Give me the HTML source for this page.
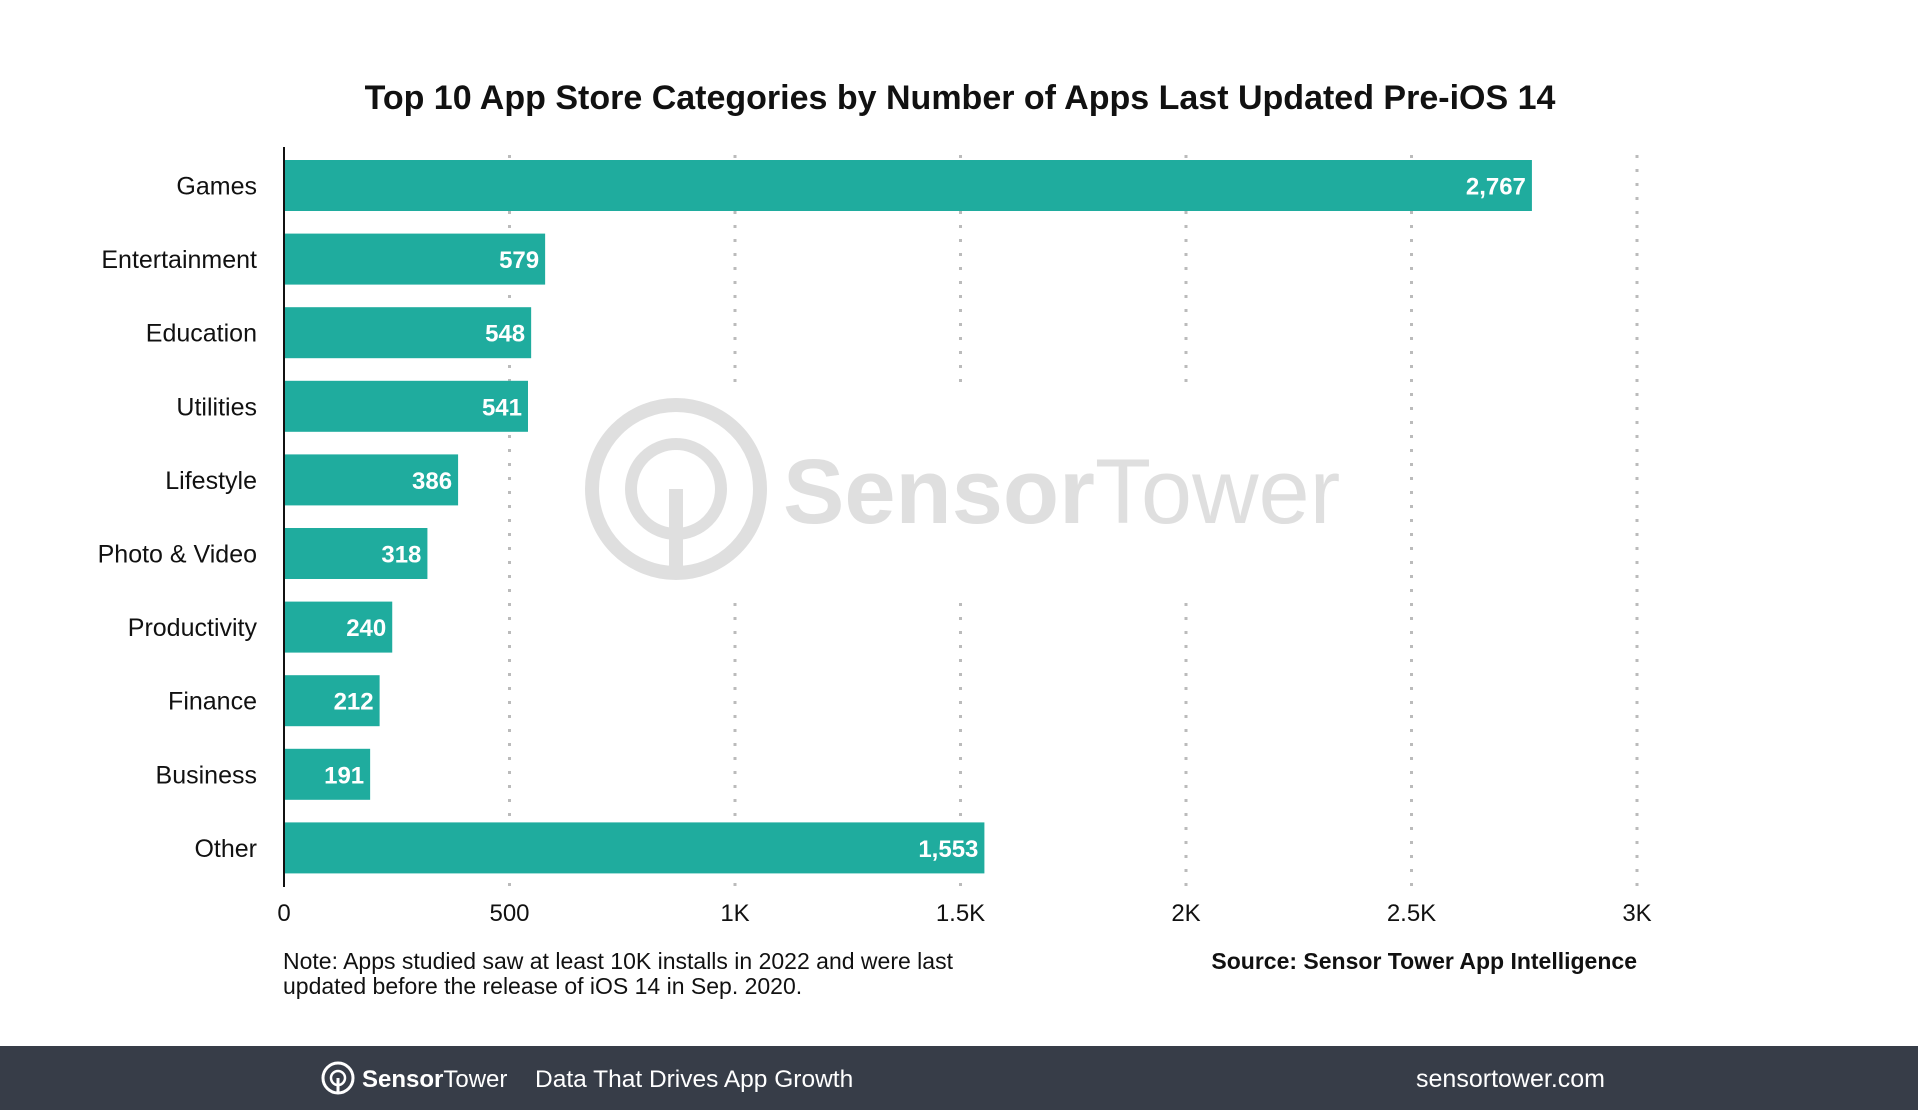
<!DOCTYPE html>
<html><head><meta charset="utf-8"><style>
body{margin:0;width:1918px;height:1110px;background:#fff;overflow:hidden;font-family:"Liberation Sans",Arial,sans-serif}
svg{display:block}
</style></head><body>
<svg id="c" width="1918" height="1110">
<text x="960" y="109" text-anchor="middle" font-size="34" font-weight="bold" fill="#111">Top 10 App Store Categories by Number of Apps Last Updated Pre-iOS 14</text>
<g id="grid"></g>
<rect x="575" y="385" width="770" height="215" fill="#fff"/>
<g opacity="0.9">
<circle cx="676" cy="489" r="84" fill="none" stroke="#dcdcdc" stroke-width="14"/>
<circle cx="676" cy="489" r="45" fill="none" stroke="#dcdcdc" stroke-width="12"/>
<line x1="676" y1="489" x2="676" y2="570" stroke="#dcdcdc" stroke-width="14"/>
<text x="783" y="523" font-size="92" font-weight="bold" fill="#dcdcdc">Sensor<tspan font-weight="normal">Tower</tspan></text>
</g>
<g id="bars"></g>
<line x1="284" y1="147" x2="284" y2="887" stroke="#111" stroke-width="2"/>
<g id="ticks"></g>
<text x="283" y="969" font-size="23" fill="#111">Note: Apps studied saw at least 10K installs in 2022 and were last</text>
<text x="283" y="994" font-size="23" fill="#111">updated before the release of iOS 14 in Sep. 2020.</text>
<text x="1637" y="969" text-anchor="end" font-size="23" font-weight="bold" fill="#111">Source: Sensor Tower App Intelligence</text>
<rect x="0" y="1046" width="1918" height="64" fill="#373d48"/>
<g>
<circle cx="338" cy="1078" r="15" fill="none" stroke="#fff" stroke-width="3"/>
<circle cx="338" cy="1078" r="7" fill="none" stroke="#fff" stroke-width="2.5"/>
<line x1="338" y1="1078" x2="338" y2="1093" stroke="#fff" stroke-width="3"/>
<text x="362" y="1087" font-size="24" fill="#fff" font-weight="bold">Sensor<tspan font-weight="normal">Tower</tspan></text>
</g>
<text x="535" y="1087" font-size="24.5" fill="#fff">Data That Drives App Growth</text>
<text x="1605" y="1087" text-anchor="end" font-size="25" fill="#fff">sensortower.com</text>
</svg>
<script>
const categories=["Games","Entertainment","Education","Utilities","Lifestyle","Photo & Video","Productivity","Finance","Business","Other"];
const values=[2767,579,548,541,386,318,240,212,191,1553];
const valueLabels=["2,767","579","548","541","386","318","240","212","191","1,553"];
const tickValues=[0,500,1000,1500,2000,2500,3000];
const tickLabels=["0","500","1K","1.5K","2K","2.5K","3K"];
const NS="http://www.w3.org/2000/svg";
const x0=284,x1=1637,maxV=3000;
const xs=v=>x0+(x1-x0)*v/maxV;
const ys=i=>160+i*73.6;
const bh=51;
function mk(t,a,p){const e=document.createElementNS(NS,t);for(const k in a)e.setAttribute(k,a[k]);p.appendChild(e);return e;}
const grid=document.getElementById('grid'),bars=document.getElementById('bars'),ticks=document.getElementById('ticks');
tickValues.forEach((v,i)=>{
 if(v>0){const g=mk('line',{x1:xs(v),x2:xs(v),y1:155,y2:887,stroke:'#bbb','stroke-width':3,'stroke-dasharray':'3 11'},grid);
 
 }
 const t=mk('text',{x:xs(v),y:921,'text-anchor':'middle','font-size':24,fill:'#111'},ticks);
 t.textContent=tickLabels[i];
 
 
});
categories.forEach((c,i)=>{
 const y=ys(i);
 const r=mk('rect',{x:x0,y:y,width:xs(values[i])-x0,height:bh,fill:'#1fac9e'},bars);
 
 
 const l=mk('text',{x:257,y:y+bh/2+9,'text-anchor':'end','font-size':25,fill:'#111'},bars);
 l.textContent=c;
 
 
 const v=mk('text',{x:xs(values[i])-6,y:y+bh/2+9,'text-anchor':'end','font-size':24,'font-weight':'bold',fill:'#fff'},bars);
 v.textContent=valueLabels[i];
 
 
});
</script>
</body></html>
